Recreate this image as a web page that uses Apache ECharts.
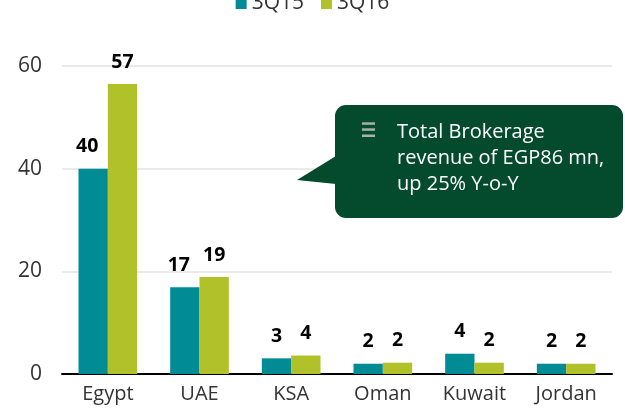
<!DOCTYPE html>
<html>
<head>
<meta charset="utf-8">
<script src="https://cdn.jsdelivr.net/npm/echarts@6/dist/echarts.min.js"></script>
<style>
  html, body { margin: 0; padding: 0; background: #fff; }
  #chart { width: 625px; height: 413px; }
</style>
</head>
<body>
<div id="chart"></div>
<script>
var categories = ['Egypt', 'UAE', 'KSA', 'Oman', 'Kuwait', 'Jordan'];
var q315 = [40, 16.9, 3.05, 2.0, 3.95, 2.0];
var q316 = [56.5, 18.9, 3.6, 2.2, 2.2, 2.0];
var seriesNames = ['3Q15', '3Q16'];
var yTicks = [0, 20, 40, 60];
var calloutLines = ['Total Brokerage', 'revenue of EGP86 mn,', 'up 25% Y-o-Y'];

var font = '"Open Sans", "Noto Sans", sans-serif';
var chart = echarts.init(document.getElementById('chart'));

// two digit teal labels sit a bit to the left in the original
function withLabels(vals, shift) {
    return vals.map(function (v) {
        var item = { value: v };
        if (shift && Math.round(v) >= 10) item.label = { offset: [-6, 0] };
        return item;
    });
}

var labelStyle = {
    show: true,
    position: 'top',
    distance: 12,
    fontFamily: font,
    fontSize: 19.5,
    fontWeight: 'bold',
    color: '#000',
    formatter: function (p) { return Math.round(p.value); }
};

var textItems = calloutLines.map(function (line, i) {
    return {
        type: 'text',
        x: 397,
        y: 132 + i * 26,
        z: 12,
        style: { text: line, fill: '#fff', font: '20px ' + font, textVerticalAlign: 'middle' }
    };
});

var bullet = [123.5, 129.5, 135.7].map(function (y) {
    return {
        type: 'rect',
        z: 12,
        shape: { x: 362, y: y - 1.2, width: 13, height: 2.5 },
        style: { fill: '#a7b1ab' }
    };
});

chart.setOption({
    animation: false,
    color: ['#008b95', '#b1c12a'],
    grid: { left: 62, right: 13, top: 66, bottom: 39 },
    legend: {
        top: -12,
        left: 'center',
        itemWidth: 11,
        itemHeight: 11,
        itemGap: 17,
        icon: 'rect',
        textStyle: { fontFamily: font, fontSize: 21, color: '#333' },
        data: seriesNames
    },
    xAxis: {
        type: 'category',
        data: categories,
        axisTick: { show: false },
        axisLine: { lineStyle: { color: '#000', width: 2 } },
        axisLabel: { margin: 10, fontFamily: font, fontSize: 20, color: '#333' }
    },
    yAxis: {
        type: 'value',
        min: yTicks[0],
        max: yTicks[yTicks.length - 1],
        interval: yTicks[1] - yTicks[0],
        axisLine: { show: false },
        axisTick: { show: false },
        axisLabel: { margin: 20, fontFamily: font, fontSize: 21, color: '#333' },
        splitLine: { lineStyle: { color: '#e3e3e3', width: 1.5 } }
    },
    series: [
        {
            name: seriesNames[0], type: 'bar', barWidth: '32%', barGap: '0%',
            data: withLabels(q315, true), label: labelStyle
        },
        {
            name: seriesNames[1], type: 'bar', barWidth: '32%', barGap: '0%',
            data: withLabels(q316, false), label: labelStyle
        }
    ],
    graphic: [
        {
            type: 'rect',
            z: 10,
            shape: { x: 335, y: 105, width: 288, height: 113, r: 11 },
            style: { fill: '#034b2c' }
        },
        {
            type: 'polygon',
            z: 10,
            shape: { points: [[336, 156], [297, 180], [336, 184]] },
            style: { fill: '#034b2c' }
        }
    ].concat(bullet, textItems)
});
</script>
</body>
</html>
